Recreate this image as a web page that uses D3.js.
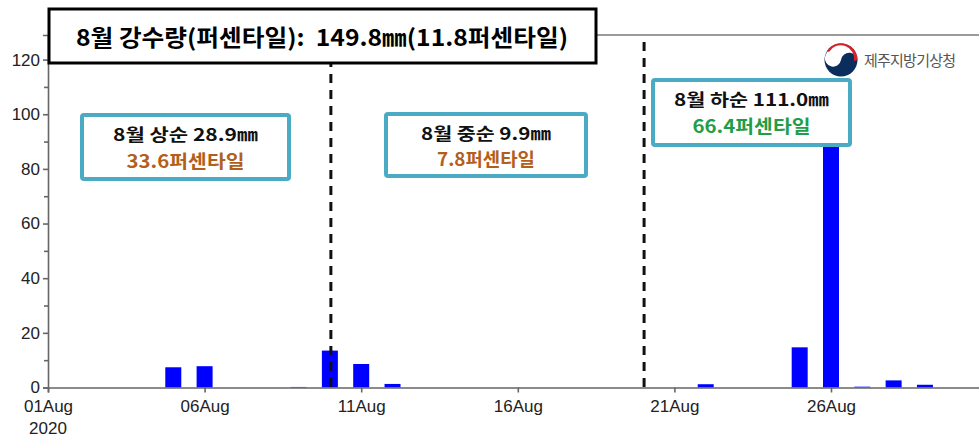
<!DOCTYPE html>
<html>
<head>
<meta charset="utf-8">
<script src="https://cdn.jsdelivr.net/npm/d3@7"></script>
<style>
  body { margin: 0; background: #fff; }
  svg { display: block; }
</style>
</head>
<body>
<div id="chart"></div>
<script>
// daily rainfall, Jeju, August 2020 (mm)
const days = ["2020-08-05", "2020-08-06", "2020-08-09", "2020-08-10", "2020-08-11", "2020-08-12",
  "2020-08-22", "2020-08-25", "2020-08-26", "2020-08-27", "2020-08-28", "2020-08-29"];
const rain = [7.4, 7.8, 0.2, 13.5, 8.6, 1.3, 1.2, 14.7, 91.2, 0.3, 2.6, 1.0];

const yTicks = [0, 20, 40, 60, 80, 100, 120];
const xTickDays = ["2020-08-01", "2020-08-06", "2020-08-11", "2020-08-16", "2020-08-21", "2020-08-26"];
const splitDays = ["2020-08-10", "2020-08-20"];

const titleText = "8월 강수량(퍼센타일):  149.8㎜(11.8퍼센타일)";
const periodLabels = ["8월 상순 28.9㎜", "8월 중순 9.9㎜", "8월 하순 111.0㎜"];
const percentLabels = ["33.6퍼센타일", "7.8퍼센타일", "66.4퍼센타일"];
const percentColors = ["#b35f1b", "#b35f1b", "#1e9e48"];

const W = 979, H = 437;
const margin = {top: 35, left: 48, bottom: 49};
const parse = d3.utcParse("%Y-%m-%d");

const svg = d3.select("#chart").append("svg")
  .attr("width", W).attr("height", H);

// x: one day = ~31.3px, plot runs past the right edge
const x = d3.scaleUtc()
  .domain([parse("2020-08-01"), parse("2020-09-01")])
  .range([margin.left, margin.left + 31 * 31.32]);

const y = d3.scaleLinear()
  .domain([0, 129])
  .range([H - margin.bottom - 0.5, margin.top]);

const axisColor = "#666";

// frame top line
svg.append("line")
  .attr("x1", margin.left).attr("x2", W)
  .attr("y1", y(129)).attr("y2", y(129))
  .attr("stroke", "#9a9a9a").attr("stroke-width", 2);

// bars
const barW = 16;
svg.append("g")
  .selectAll("rect")
  .data(days.map((d, i) => ({date: parse(d), v: rain[i]})))
  .join("rect")
    .attr("x", d => x(d.date) - barW / 2)
    .attr("y", d => y(d.v))
    .attr("width", barW)
    .attr("height", d => y(0) - y(d.v))
    .attr("fill", "#0000ff");

// y axis
svg.append("g")
  .attr("transform", `translate(${margin.left},0)`)
  .call(d3.axisLeft(y).tickValues(yTicks).tickSize(5).tickPadding(3));
svg.append("g")
  .attr("transform", `translate(${margin.left},0)`)
  .call(d3.axisLeft(y).tickValues(d3.range(10, 130, 20)).tickSize(4).tickFormat(""))
  .call(g => g.select(".domain").remove());

// x axis
const fmt = d3.utcFormat("%d%b");
const xAxis = svg.append("g")
  .attr("transform", `translate(0,${y(0)})`)
  .call(d3.axisBottom(x).tickValues(xTickDays.map(parse)).tickSize(5).tickPadding(7)
    .tickFormat(fmt));

svg.selectAll(".domain, .tick line")
  .attr("stroke", axisColor).attr("stroke-width", 1.6);
svg.selectAll(".tick text")
  .attr("fill", "#222")
  .style("font-family", "Liberation Sans, Arial, sans-serif")
  .style("font-size", "17px");

xAxis.append("text")
  .attr("x", margin.left).attr("y", 46)
  .attr("text-anchor", "middle")
  .attr("fill", "#222")
  .style("font-family", "Liberation Sans, Arial, sans-serif")
  .style("font-size", "17px")
  .text("2020");

// decade dividers
svg.append("g")
  .selectAll("line")
  .data(splitDays.map(parse))
  .join("line")
    .attr("x1", d => x(d) + 1).attr("x2", d => x(d) + 1)
    .attr("y1", 42).attr("y2", y(0))
    .attr("stroke", "#111")
    .attr("stroke-width", 3)
    .attr("stroke-dasharray", "9,7");

// title box
svg.append("rect")
  .attr("x", 49).attr("y", 9).attr("width", 547).attr("height", 54)
  .attr("fill", "#fff").attr("stroke", "#000").attr("stroke-width", 3);
svg.append("text")
  .attr("x", 322).attr("y", 46)
  .attr("text-anchor", "middle")
  .attr("textLength", 492)
  .attr("lengthAdjust", "spacingAndGlyphs")
  .style("font-family", "Noto Sans CJK KR, sans-serif")
  .style("font-weight", "bold")
  .style("font-size", "23px")
  .attr("xml:space", "preserve")
  .text(titleText);

// decade boxes
const boxes = [
  {x: 82, y: 115, w: 207, h: 64, l1: 145, l2: 118, o1: 26, o2: 53},
  {x: 386, y: 114, w: 200, h: 62, l1: 130, l2: 98, o1: 26, o2: 52},
  {x: 653, y: 80, w: 197, h: 65, l1: 155, l2: 118, o1: 26, o2: 53}
];
const bg = svg.append("g").selectAll("g")
  .data(boxes)
  .join("g");
bg.append("rect")
  .attr("x", d => d.x).attr("y", d => d.y)
  .attr("width", d => d.w).attr("height", d => d.h)
  .attr("rx", 2)
  .attr("fill", "#fff").attr("stroke", "#4babc5").attr("stroke-width", 4);
bg.append("text")
  .attr("x", d => d.x + d.w / 2).attr("y", d => d.y + d.o1)
  .attr("text-anchor", "middle")
  .attr("textLength", d => d.l1)
  .attr("lengthAdjust", "spacingAndGlyphs")
  .style("font-family", "Noto Sans CJK KR, sans-serif")
  .style("font-weight", "bold")
  .style("font-size", "17px")
  .attr("fill", "#111")
  .text((d, i) => periodLabels[i]);
bg.append("text")
  .attr("x", d => d.x + d.w / 2).attr("y", d => d.y + d.o2)
  .attr("text-anchor", "middle")
  .attr("textLength", d => d.l2)
  .attr("lengthAdjust", "spacingAndGlyphs")
  .style("font-family", "Noto Sans CJK KR, sans-serif")
  .style("font-weight", "bold")
  .style("font-size", "18px")
  .attr("fill", (d, i) => percentColors[i])
  .text((d, i) => percentLabels[i]);

// logo: KMA emblem + name
const logo = svg.append("g").attr("transform", "translate(841,60)");
logo.append("circle").attr("r", 16.5).attr("fill", "#0b2d5c");
logo.append("path")
  .attr("d", "M-16,-3 A16.5,16.5 0 0 1 16.5,2 A8,8 0 0 0 0,0 A8,8 0 0 1 -16,-3 Z")
  .attr("fill", "#fff");
logo.append("path")
  .attr("d", "M-14,-9 A16.5,16.5 0 0 1 16.5,0 L13,1 A13.5,13.5 0 0 0 -12,-8 Z")
  .attr("fill", "#d8232a");
svg.append("text")
  .attr("x", 864).attr("y", 66)
  .attr("textLength", 92)
  .style("font-family", "Noto Sans CJK KR, sans-serif")
  .style("font-size", "15px")
  .attr("fill", "#555")
  .text("제주지방기상청");
</script>
</body>
</html>
